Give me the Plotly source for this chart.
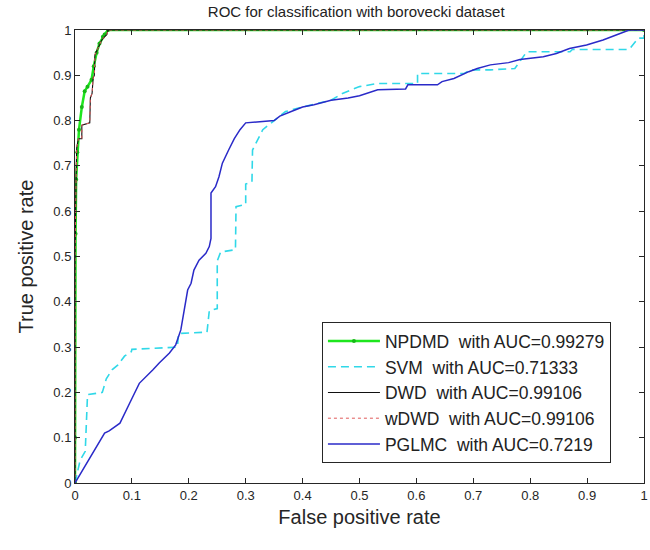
import plotly.graph_objects as go

# ---- data ----
npdmd_x = [0, 0, 0.001, 0.002, 0.004, 0.007, 0.012, 0.017, 0.022, 0.029, 0.033, 0.038, 0.043, 0.049, 0.052, 0.058, 1]
npdmd_y = [0, 0.1, 0.55, 0.67, 0.73, 0.78, 0.83, 0.865, 0.875, 0.89, 0.92, 0.95, 0.97, 0.985, 0.99, 1, 1]

svm_x = [0, 0.006, 0.009, 0.018, 0.02, 0.022, 0.048, 0.055, 0.065, 0.075, 0.087, 0.099, 0.1, 0.18, 0.182,
         0.232, 0.236, 0.25, 0.25, 0.256, 0.282, 0.283, 0.30, 0.30, 0.311, 0.312, 0.33, 0.35, 0.37, 0.40,
         0.45, 0.47, 0.50, 0.532, 0.602, 0.602, 0.684, 0.695, 0.73, 0.773, 0.794, 0.87, 0.874, 0.974, 0.99, 1, 1]
svm_y = [0, 0.03, 0.05, 0.07, 0.13, 0.195, 0.2, 0.23, 0.25, 0.26, 0.28, 0.29, 0.295, 0.30, 0.33,
         0.333, 0.38, 0.385, 0.49, 0.51, 0.515, 0.61, 0.615, 0.66, 0.665, 0.735, 0.78, 0.80, 0.82, 0.83,
         0.845, 0.86, 0.875, 0.882, 0.882, 0.904, 0.904, 0.912, 0.912, 0.915, 0.952, 0.952, 0.957, 0.957, 0.982, 0.982, 1]

dwd_x = [0, 0, 0.002, 0.003, 0.006, 0.012, 0.012, 0.026, 0.027, 0.030, 0.032, 0.034, 0.035, 0.039, 0.041,
         0.045, 0.047, 0.052, 0.056, 0.058, 1]
dwd_y = [0, 0.5, 0.68, 0.74, 0.76, 0.76, 0.79, 0.795, 0.85, 0.86, 0.895, 0.90, 0.945, 0.955, 0.962,
         0.97, 0.978, 0.985, 0.99, 1, 1]

wdwd_x = [0, 0, 0.002, 0.003, 0.006, 0.012, 0.012, 0.026, 0.027, 0.030, 0.032, 0.034, 0.035, 0.039, 0.041,
          0.045, 0.047, 0.052, 0.056, 0.058, 1]
wdwd_y = [0, 0.5, 0.68, 0.74, 0.76, 0.76, 0.79, 0.795, 0.85, 0.86, 0.895, 0.90, 0.945, 0.955, 0.962,
          0.97, 0.978, 0.985, 0.99, 1, 1]

pglmc_x = [0, 0.052, 0.06, 0.079, 0.096, 0.113, 0.137, 0.148, 0.166, 0.177, 0.186, 0.192, 0.198, 0.204,
           0.209, 0.218, 0.23, 0.236, 0.239, 0.239, 0.247, 0.253, 0.259, 0.27, 0.28, 0.29, 0.30, 0.35,
           0.36, 0.38, 0.40, 0.42, 0.45, 0.48, 0.5, 0.532, 0.581, 0.585, 0.637, 0.645, 0.666, 0.692,
           0.707, 0.73, 0.762, 0.782, 0.823, 0.846, 0.869, 0.899, 0.928, 0.951, 0.974, 1]
pglmc_y = [0, 0.11, 0.115, 0.132, 0.176, 0.22, 0.25, 0.265, 0.287, 0.305, 0.338, 0.382, 0.426, 0.441,
           0.47, 0.492, 0.507, 0.522, 0.54, 0.64, 0.654, 0.676, 0.706, 0.735, 0.76, 0.78, 0.795, 0.80,
           0.81, 0.82, 0.83, 0.835, 0.845, 0.85, 0.855, 0.868, 0.87, 0.879, 0.879, 0.886, 0.893, 0.908,
           0.915, 0.923, 0.928, 0.935, 0.941, 0.948, 0.959, 0.967, 0.978, 0.989, 1.0, 1]

names = ["NPDMD  with AUC=0.99279", "SVM  with AUC=0.71333", "DWD  with AUC=0.99106",
         "wDWD  with AUC=0.99106", "PGLMC  with AUC=0.7219"]

tick_vals = [0, 0.1, 0.2, 0.3, 0.4, 0.5, 0.6, 0.7, 0.8, 0.9, 1]
tick_text = ["0", "0.1", "0.2", "0.3", "0.4", "0.5", "0.6", "0.7", "0.8", "0.9", "1"]

FONT = "Liberation Sans, Arial, sans-serif"

fig = go.Figure()
fig.add_trace(go.Scatter(x=npdmd_x, y=npdmd_y, name=names[0], mode="lines+markers",
                         line=dict(color="#1ee61e", width=2.5),
                         marker=dict(color="#17b817", size=4)))
fig.add_trace(go.Scatter(x=svm_x, y=svm_y, name=names[1], mode="lines",
                         line=dict(color="#30d8e8", width=1.6, dash="8px,5px")))
fig.add_trace(go.Scatter(x=dwd_x, y=dwd_y, name=names[2], mode="lines",
                         line=dict(color="#111111", width=1.1)))
fig.add_trace(go.Scatter(x=wdwd_x, y=wdwd_y, name=names[3], mode="lines",
                         line=dict(color="#e05a5a", width=1, dash="dot")))
fig.add_trace(go.Scatter(x=pglmc_x, y=pglmc_y, name=names[4], mode="lines",
                         line=dict(color="#2a2ac8", width=1.5)))

axis_common = dict(range=[0, 1], tickvals=tick_vals, ticktext=tick_text, ticks="inside", ticklen=5,
                   tickcolor="#262626", showline=True, linecolor="#262626", linewidth=1, mirror="ticks",
                   showgrid=False, zeroline=False, automargin=False, ticklabeloverflow="allow",
                   tickfont=dict(family=FONT, size=13, color="#262626"))

fig.update_layout(
    width=650, height=550,
    margin=dict(l=75, r=6, t=30, b=67, autoexpand=False),
    paper_bgcolor="white", plot_bgcolor="white",
    title=dict(text="ROC for classification with borovecki dataset", x=0.548, xanchor="center",
               y=0.978, yanchor="middle",
               font=dict(family=FONT, size=15, color="#222222")),
    xaxis=dict(axis_common, title=dict(text="False positive rate", standoff=8,
               font=dict(family=FONT, size=20, color="#262626"))),
    yaxis=dict(axis_common, title=dict(text="True positive rate", standoff=14,
               font=dict(family=FONT, size=20, color="#262626"))),
    legend=dict(x=0.434, y=0.044, xanchor="left", yanchor="bottom",
                bgcolor="white", bordercolor="#262626", borderwidth=1,
                font=dict(family=FONT, size=17.5, color="#222222"),
                tracegroupgap=0, itemwidth=52),
    showlegend=True,
)

fig.write_html("out.html", post_script="document.body.style.margin='0';",
               config={"displayModeBar": False})
